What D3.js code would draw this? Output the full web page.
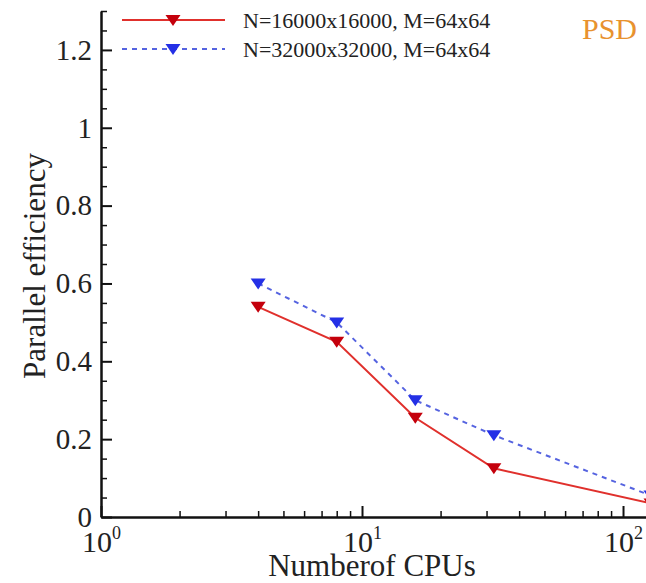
<!DOCTYPE html>
<html>
<head>
<meta charset="utf-8">
<script src="https://cdn.jsdelivr.net/npm/d3@7"></script>
<style>
  body { margin: 0; background: #fff; }
  text { font-family: "Liberation Serif", "Times New Roman", serif; }
</style>
</head>
<body>
<div id="chart"></div>
<script>
// data
const cpus = [4, 8, 16, 32, 128];
const effN16k = [0.54, 0.45, 0.255, 0.125, 0.035];
const effN32k = [0.60, 0.50, 0.30, 0.21, 0.055];
const seriesNames = ['N=16000x16000, M=64x64', 'N=32000x32000, M=64x64'];
const yTicks = [0, 0.2, 0.4, 0.6, 0.8, 1, 1.2];
const xTicks = [1, 10, 100];

const W = 646, H = 583;
const svg = d3.select('#chart').append('svg')
    .attr('width', W)
    .attr('height', H);

const x = d3.scaleLog().domain([1, 128]).range([101, 651]);
const y = d3.scaleLinear().domain([0, 1.3]).range([517, 11]);

// minor ticks
const yMinor = d3.range(0, 1.3001, 0.05).filter(v => Math.abs(v / 0.2 - Math.round(v / 0.2)) > 1e-6);
const xMinor = [];
[1, 10, 100].forEach(d => { for (let k = 2; k <= 9; k++) if (d * k <= 128) xMinor.push(d * k); });

svg.append('g')
    .attr('transform', 'translate(101,0)')
    .call(d3.axisLeft(y).tickValues(yMinor).tickSize(-6).tickFormat(''))
    .call(g => g.select('.domain').remove())
    .selectAll('line').attr('stroke', '#111').attr('stroke-width', 1.5);

svg.append('g')
    .attr('transform', 'translate(0,517)')
    .call(d3.axisBottom(x).tickValues(xMinor).tickSize(-6).tickFormat(''))
    .call(g => g.select('.domain').remove())
    .selectAll('line').attr('stroke', '#111').attr('stroke-width', 1.5);

// y axis
const gy = svg.append('g')
    .attr('transform', 'translate(101,0)')
    .call(d3.axisLeft(y).tickValues(yTicks).tickSize(-11).tickSizeOuter(0).tickPadding(9)
        .tickFormat(d3.format('~g')));
gy.select('.domain').attr('stroke', '#111').attr('stroke-width', 2.5);
gy.selectAll('.tick line').attr('stroke', '#111').attr('stroke-width', 2);
gy.selectAll('.tick text')
    .attr('font-size', 29)
    .attr('font-family', '"Liberation Serif", serif')
    .attr('fill', '#222');

// x axis
const gx = svg.append('g')
    .attr('transform', 'translate(0,517)')
    .call(d3.axisBottom(x).tickValues(xTicks).tickSize(-11).tickSizeOuter(0).tickFormat(''));
gx.select('.domain').attr('stroke', '#111').attr('stroke-width', 2.5);
gx.selectAll('.tick line').attr('stroke', '#111').attr('stroke-width', 2);
gx.selectAll('.tick text').remove();
gx.selectAll('.tick').append('text')
    .attr('y', 35)
    .attr('fill', '#222')
    .attr('font-size', 30)
    .attr('text-anchor', 'middle')
    .each(function(d) {
        const t = d3.select(this);
        t.append('tspan').text('10');
        t.append('tspan').attr('font-size', 18).attr('dy', -13).text(Math.round(Math.log10(d)));
    });

// axis titles
svg.append('text')
    .attr('x', 372)
    .attr('y', 576)
    .attr('text-anchor', 'middle')
    .attr('font-size', 31)
    .attr('fill', '#222')
    .text('Numberof CPUs');

svg.append('text')
    .attr('transform', 'translate(45,266) rotate(-90)')
    .attr('text-anchor', 'middle')
    .attr('font-size', 31)
    .attr('fill', '#222')
    .text('Parallel efficiency');

// series
const tri = 'M-7.5,-5L7.5,-5L0,6Z';
const series = [
    { name: seriesNames[0], vals: effN16k, line: '#e0302c', mark: '#c4000c', dash: null },
    { name: seriesNames[1], vals: effN32k, line: '#5563e0', mark: '#2430e6', dash: '5,5' }
];

const line = d3.line().x(d => x(d[0])).y(d => y(d[1]));

series.forEach(s => {
    const pts = cpus.map((c, i) => [c, s.vals[i]]);
    svg.append('path')
        .datum(pts)
        .attr('d', line)
        .attr('fill', 'none')
        .attr('stroke', s.line)
        .attr('stroke-width', 2)
        .attr('stroke-dasharray', s.dash);
    svg.selectAll(null)
        .data(pts)
        .enter().append('path')
        .attr('d', tri)
        .attr('transform', d => `translate(${x(d[0])},${y(d[1])})`)
        .attr('fill', s.mark);
});

// legend
const legend = svg.append('g');
series.forEach((s, i) => {
    const ly = 20 + i * 29;
    legend.append('line')
        .attr('x1', 122).attr('x2', 225)
        .attr('y1', ly).attr('y2', ly)
        .attr('stroke', s.line)
        .attr('stroke-width', 2)
        .attr('stroke-dasharray', s.dash);
    legend.append('path')
        .attr('d', tri)
        .attr('transform', `translate(173,${ly})`)
        .attr('fill', s.mark);
    legend.append('text')
        .attr('x', 243)
        .attr('y', ly + 8)
        .attr('font-size', 22)
        .attr('fill', '#222')
        .text(s.name);
});

svg.append('text')
    .attr('x', 582)
    .attr('y', 39)
    .attr('font-size', 30)
    .attr('fill', '#e8922e')
    .text('PSD');
</script>
</body>
</html>
